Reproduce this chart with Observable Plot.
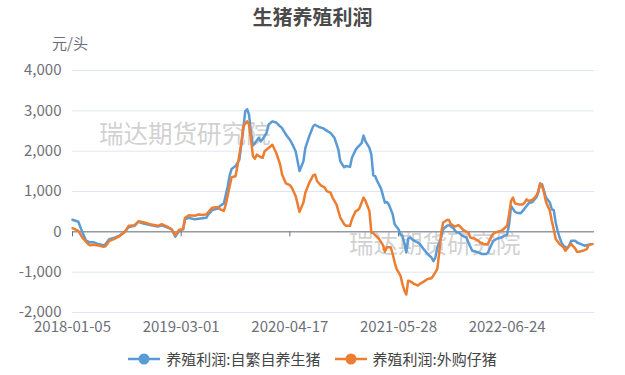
<!DOCTYPE html>
<html>
<head>
<meta charset="utf-8">
<script src="https://cdn.jsdelivr.net/npm/d3@7"></script>
<script src="https://cdn.jsdelivr.net/npm/@observablehq/plot@0.6"></script>
<style>
  html, body { margin: 0; padding: 0; background: #fff; }
  #wrap { position: relative; width: 625px; height: 375px; overflow: hidden;
          font-family: "Noto Sans CJK SC", "Noto Sans", sans-serif; }
  #title { position: absolute; left: 0; width: 625px; top: 4px; text-align: center;
           font-size: 20px; font-weight: bold; color: #4a4a4a; line-height: 26px; }
  #unit { position: absolute; left: 52px; top: 33px; font-size: 15px; color: #6E7079; line-height: 20px; }
  .wm { position: absolute; font-size: 24.5px; color: rgba(170,170,170,0.55); line-height: 28px; white-space: nowrap; }
  #chart { position: absolute; left: 0; top: 0; }
  #legend { position: absolute; left: 0; width: 625px; top: 348px; display: flex; justify-content: center;
            gap: 14px; font-size: 15px; color: #444; line-height: 22px; }
  .item { display: flex; align-items: center; gap: 6px; }
</style>
</head>
<body>
<div id="wrap">
  <div class="wm" id="wm1"></div>
  <div class="wm" id="wm2"></div>
  <div id="chart"></div>
  <div id="title"></div>
  <div id="unit"></div>
  <div id="legend"></div>
</div>
<script>
const title = "生猪养殖利润";
const unit = "元/头";
const watermark = "瑞达期货研究院";
const seriesNames = ["养殖利润:自繁自养生猪", "养殖利润:外购仔猪"];
const seriesColors = ["#5B9BD5", "#ED7D31"];
const yTicks = [-2000, -1000, 0, 1000, 2000, 3000, 4000];
const xTickIndex = [0, 56, 112, 168, 224];
const xTickLabels = ["2018-01-05", "2019-03-01", "2020-04-17", "2021-05-28", "2022-06-24"];
const categoryCount = 270;

// [week index on the category axis, profit 元/头]
const selfBred = [[0,300],[3,250],[5,0],[7,-220],[9,-260],[11,-260],[13,-300],[16,-330],[17,-310],[19,-180],[22,-140],[24,-100],[27,0],[29,120],[32,150],[34,250],[37,200],[40,170],[44,130],[46,160],[49,105],[51,65],[53,-120],[55,25],[57,65],[58,310],[60,350],[63,310],[66,330],[69,350],[70,435],[72,540],[75,575],[76,640],[78,705],[80,1130],[81,1400],[82,1560],[84,1630],[86,1790],[88,2530],[89,2985],[90,3040],[91,2900],[92,2450],[93,2140],[94,2200],[96,2330],[97,2240],[98,2300],[100,2450],[101,2655],[103,2740],[105,2710],[107,2615],[108,2570],[110,2410],[112,2285],[113,2200],[115,2000],[117,1505],[119,1750],[120,2080],[122,2370],[124,2615],[125,2655],[127,2600],[129,2570],[131,2510],[133,2450],[135,2330],[137,2040],[138,1750],[140,1600],[141,1630],[143,1610],[144,1835],[146,2040],[147,2100],[149,2200],[150,2385],[151,2245],[153,2080],[154,1915],[155,1400],[156,1380],[157,1260],[159,1070],[161,725],[162,740],[163,680],[165,435],[166,190],[168,65],[169,-60],[170,-100],[171,-280],[172,-510],[173,-165],[174,-140],[176,-220],[178,-265],[179,-305],[181,-430],[183,-550],[185,-635],[186,-730],[187,-635],[188,-385],[190,-140],[191,65],[193,150],[194,165],[196,105],[198,-15],[199,-15],[201,-100],[203,-140],[204,-265],[206,-470],[208,-495],[209,-510],[211,-550],[213,-550],[214,-525],[216,-305],[217,-220],[219,-165],[221,-140],[222,-115],[224,-60],[225,190],[226,640],[228,495],[229,475],[231,460],[232,520],[234,640],[235,705],[237,740],[239,850],[240,970],[241,1200],[242,1175],[243,1010],[244,850],[246,725],[247,560],[248,540],[249,230],[250,25],[251,-140],[252,-265],[253,-345],[255,-410],[256,-330],[257,-220],[259,-220],[260,-265],[262,-305],[264,-345],[265,-330],[267,-305]];

const purchased = [[0,90],[3,25],[5,-140],[8,-300],[9,-330],[11,-320],[14,-345],[16,-370],[17,-360],[19,-220],[22,-165],[24,-115],[27,0],[29,150],[32,165],[34,260],[37,230],[40,190],[44,150],[46,190],[49,125],[51,65],[53,-80],[55,50],[57,65],[58,350],[60,410],[63,400],[65,430],[67,415],[69,435],[70,490],[72,600],[75,615],[76,560],[78,520],[79,680],[81,1130],[82,1355],[84,1380],[85,1630],[87,2200],[88,2615],[90,2740],[91,2655],[92,2285],[93,1875],[94,1810],[95,1915],[97,1850],[98,1835],[99,2000],[101,2080],[103,2160],[105,1955],[107,1670],[108,1420],[110,1200],[112,1160],[113,1095],[115,890],[117,495],[119,725],[120,970],[122,1215],[124,1400],[125,1420],[126,1260],[128,1150],[130,1095],[131,1010],[133,970],[134,850],[136,680],[138,355],[140,190],[141,150],[143,150],[144,310],[146,520],[147,535],[148,600],[150,850],[151,765],[152,640],[153,520],[154,-15],[155,-30],[156,-80],[158,-180],[160,-330],[161,-495],[162,-385],[164,-385],[165,-550],[166,-755],[167,-920],[169,-1085],[170,-1290],[171,-1455],[172,-1555],[173,-1210],[174,-1225],[176,-1290],[178,-1330],[179,-1290],[181,-1235],[183,-1170],[185,-1150],[186,-1085],[188,-920],[189,-510],[190,-15],[191,230],[193,295],[194,295],[195,190],[197,130],[198,150],[199,165],[201,65],[202,25],[204,-15],[205,-140],[207,-165],[209,-220],[210,-265],[212,-305],[214,-305],[216,-100],[217,-40],[219,0],[221,25],[222,65],[224,150],[225,435],[226,765],[227,850],[228,705],[230,680],[232,680],[233,725],[234,805],[235,765],[237,790],[239,890],[240,1010],[241,1200],[242,1135],[243,970],[244,740],[246,520],[247,270],[248,65],[249,-180],[251,-305],[253,-385],[254,-470],[256,-345],[257,-305],[259,-410],[260,-495],[261,-495],[263,-470],[265,-430],[266,-330],[268,-305]];

document.getElementById("title").textContent = title;
document.getElementById("unit").textContent = unit;
const wm1 = document.getElementById("wm1");
wm1.textContent = watermark; wm1.style.left = "99px"; wm1.style.top = "119px";
const wm2 = document.getElementById("wm2");
wm2.textContent = watermark; wm2.style.left = "349px"; wm2.style.top = "229px";

const fmt = d => d.toLocaleString("en-US");
const tickLabelOf = i => xTickLabels[xTickIndex.indexOf(i)];

const chart = Plot.plot({
  width: 625,
  height: 375,
  marginLeft: 72,
  marginRight: 31,
  marginTop: 70,
  marginBottom: 63,
  style: { background: "transparent", fontSize: "15px", fontFamily: "'Noto Sans CJK SC', 'Noto Sans', sans-serif", color: "#6E7079" },
  x: { domain: [0, categoryCount - 1] },
  y: { domain: [-2000, 4000] },
  marks: [
    Plot.gridY(yTicks, { stroke: "#E0E6F1", strokeOpacity: 1, strokeWidth: 1 }),
    Plot.axisY(yTicks, { tickSize: 0, tickPadding: 11, tickFormat: fmt, label: null, color: "#6E7079" }),
    Plot.ruleY([0], { stroke: "#6E7079", strokeWidth: 1 }),
    Plot.ruleX(xTickIndex, { y1: 0, y2: -125, stroke: "#6E7079" }),
    Plot.axisX(xTickIndex, { tickSize: 0, tickPadding: 9, tickFormat: tickLabelOf, label: null, color: "#6E7079" }),
    Plot.line(selfBred, { x: d => d[0], y: d => d[1], stroke: seriesColors[0], strokeWidth: 2.5 }),
    Plot.line(purchased, { x: d => d[0], y: d => d[1], stroke: seriesColors[1], strokeWidth: 2.5 })
  ]
});
document.getElementById("chart").appendChild(chart);

const legend = document.getElementById("legend");
seriesNames.forEach((name, i) => {
  const item = document.createElement("div");
  item.className = "item";
  item.innerHTML = `<svg width="32" height="14"><line x1="0" y1="7" x2="32" y2="7" stroke="${seriesColors[i]}" stroke-width="2.5"/><circle cx="16" cy="7" r="5.5" fill="${seriesColors[i]}"/></svg><span></span>`;
  item.querySelector("span").textContent = name;
  legend.appendChild(item);
});
</script>
</body>
</html>
